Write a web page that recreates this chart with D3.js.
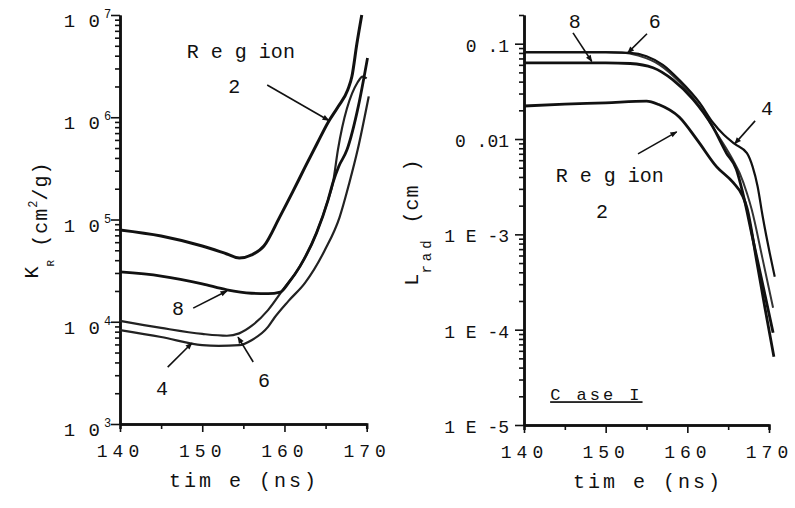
<!DOCTYPE html>
<html>
<head>
<meta charset="utf-8">
<script src="https://cdn.jsdelivr.net/npm/d3@7"></script>
<style>
  body { margin: 0; background: #fff; }
  svg { display: block; }
  text { font-family: "Liberation Mono", "Courier New", monospace; fill: #111; }
  .domain { stroke: #111; stroke-width: 2.5; }
  .tick line { stroke: #111; stroke-width: 1.6; }
</style>
</head>
<body>
<script>
// ---- data ----
var timeTicks = [140, 150, 160, 170];
var timeMinor = [145, 155, 165];

// left panel: Rosseland opacity K_R (cm^2/g)
var kMajor = [1e3, 1e4, 1e5, 1e6, 1e7];
var kExp = ["3", "4", "5", "6", "7"];

var kT2 = [140, 145, 150, 153, 154.5, 156, 157.5, 159.4, 161, 162.5, 164, 165.3, 166.5, 167.7, 168.2, 168.8, 169.4];
var kV2 = [79000, 69000, 55000, 46000, 42000, 45000, 55000, 105000, 186000, 325000, 560000, 890000, 1.26e6, 1.86e6, 2.5e6, 5.2e6, 1e7];

var kT8 = [140, 145, 150, 153, 156, 158, 159.5, 160.5, 161.9, 163.9, 165.3, 165.9, 166.6, 167.6, 169, 170.1];
var kV8 = [30700, 28000, 23500, 20500, 19000, 18800, 19500, 24000, 35000, 74000, 155000, 230000, 330000, 480000, 1.3e6, 3.8e6];

var kT6 = [140, 145, 150, 153, 154.5, 156, 158, 159.8, 161.9, 163.9, 165.3, 165.9, 166.5, 168.9, 169.5, 170.0];
var kV6 = [10200, 8700, 7600, 7300, 7700, 9100, 13000, 20500, 35000, 74000, 155000, 230000, 480000, 2.2e6, 2.5e6, 2.4e6];

var kT4 = [140, 145, 150, 152, 154.5, 156, 158, 158.8, 160.5, 162.5, 164.9, 166.7, 167.9, 168.9, 170.25];
var kV4 = [8300, 7100, 5900, 5800, 5900, 6600, 8900, 11000, 16000, 24000, 50000, 105000, 230000, 480000, 1.6e6];

// right panel: radiation length L_rad (cm)
var lMajor = [1e-5, 1e-4, 1e-3, 0.01, 0.1];
var lLabels = ["1 E -5", "1 E -4", "1 E -3", "0 .01", "0 .1"];

var lT2 = [140, 145, 150, 155, 156.5, 159, 161.2, 163.6, 165.6, 166.8, 167.3, 168.5, 169.5, 170.6];
var lV2 = [0.0222, 0.0232, 0.024, 0.025, 0.023, 0.017, 0.0098, 0.0051, 0.0035, 0.0025, 0.0019, 5.2e-4, 1.7e-4, 5.2e-5];

var lT8 = [140, 145, 150, 153, 155.8, 158.2, 160.7, 163.1, 164.8, 166, 166.8, 168, 169.3, 170.5];
var lV8 = [0.063, 0.063, 0.063, 0.062, 0.056, 0.042, 0.026, 0.0135, 0.0071, 0.0048, 0.0027, 9.1e-4, 2.8e-4, 9.3e-5];

var lT6 = [140, 145, 150, 152, 154, 156.6, 159.1, 161.5, 163.6, 165.6, 166.4, 167.3, 167.9, 169.2, 170.5];
var lV6 = [0.082, 0.082, 0.082, 0.081, 0.075, 0.06, 0.039, 0.022, 0.0115, 0.006, 0.0044, 0.0027, 0.0018, 5.6e-4, 1.7e-4];

var lT4 = [140, 145, 150, 153, 155, 157, 159.1, 161.5, 163.1, 164.5, 165.8, 167.3, 168, 168.6, 169.25, 170.1, 170.7];
var lV4 = [0.081, 0.081, 0.081, 0.08, 0.074, 0.06, 0.041, 0.024, 0.015, 0.011, 0.0089, 0.0071, 0.0051, 0.0032, 0.0015, 6.3e-4, 3.6e-4];

function zip(ts, vs) {
    return ts.map(function(t, i) { return [t, vs[i]]; });
}

function minorTicks(lo, hi) {
    var out = [];
    for (var e = lo; e < hi; e++) {
        for (var m = 2; m <= 9; m++) out.push(m * Math.pow(10, e));
    }
    return out;
}

function init() {
    var w = 795, h = 508;

    var svg = d3.select("body")
                .append("svg")
                .attr("width", w)
                .attr("height", h);

    svg.append("defs").append("marker")
        .attr("id", "head")
        .attr("viewBox", "0 0 10 10")
        .attr("refX", 9)
        .attr("refY", 5)
        .attr("markerWidth", 9)
        .attr("markerHeight", 7)
        .attr("markerUnits", "userSpaceOnUse")
        .attr("orient", "auto")
        .append("path")
        .attr("d", "M0,1 L10,5 L0,9 Z")
        .attr("fill", "#111");

    // ---------- left panel ----------
    var xL = d3.scaleLinear().domain([140, 170]).range([120, 366.7]);
    var yL = d3.scaleLog().domain([1e3, 1e7]).range([424, 15]);

    drawAxes(svg, xL, yL, 424, 120, minorTicks(3, 7), kMajor);

    // "10" with exponent labels
    svg.append("g").selectAll("text")
        .data(kMajor)
        .enter()
        .append("text")
        .attr("x", 101)
        .attr("y", function(d) { return yL(d) + 12; })
        .attr("text-anchor", "end")
        .style("font-size", "19px")
        .style("letter-spacing", "1px")
        .text("1 0");
    svg.append("g").selectAll("text")
        .data(kMajor)
        .enter()
        .append("text")
        .attr("x", 104)
        .attr("y", function(d) { return yL(d) + 3; })
        .style("font-size", "12px")
        .text(function(d, i) { return kExp[i]; });

    var lineL = d3.line()
        .x(function(d) { return xL(d[0]); })
        .y(function(d) { return yL(d[1]); })
        .curve(d3.curveMonotoneX);

    var leftSeries = [
        { pts: zip(kT4, kV4), width: 2.2, color: "#222" },
        { pts: zip(kT6, kV6), width: 2.2, color: "#222" },
        { pts: zip(kT8, kV8), width: 2.8, color: "#111" },
        { pts: zip(kT2, kV2), width: 3, color: "#111" }
    ];
    svg.append("g").selectAll("path")
        .data(leftSeries)
        .enter()
        .append("path")
        .attr("d", function(d) { return lineL(d.pts); })
        .attr("fill", "none")
        .attr("stroke", function(d) { return d.color; })
        .attr("stroke-width", function(d) { return d.width; })
        .attr("stroke-linejoin", "round");

    // labels and arrows, placed in data coordinates
    var leftNotes = [
        { text: "R e g ion", t: 154.7, v: 3.8e6 },
        { text: "2", t: 153.9, v: 1.74e6 },
        { text: "8", t: 147.05, v: 11650 },
        { text: "4", t: 145.1, v: 1900 },
        { text: "6", t: 157.5, v: 2300 }
    ];
    var leftArrows = [
        [157.9, 2.07e6, 165.4, 9.3e5],
        [148.9, 13600, 153.0, 20000],
        [145.8, 3600, 148.75, 6200],
        [156.2, 4040, 154.35, 7080]
    ];
    drawNotes(svg, xL, yL, leftNotes, leftArrows);

    svg.append("text")
        .attr("x", 244)
        .attr("y", 487)
        .attr("text-anchor", "middle")
        .style("font-size", "20px")
        .style("letter-spacing", "3px")
        .text("tim e (ns)");

    var kLab = svg.append("text")
        .attr("transform", "translate(47,220) rotate(-90)")
        .attr("text-anchor", "middle")
        .style("font-size", "20px");
    kLab.append("tspan").attr("dy", -9).text("K");
    kLab.append("tspan").attr("dy", 16).style("font-size", "11px").text("R");
    kLab.append("tspan").attr("dy", -7).style("letter-spacing", "1px").text(" (cm");
    kLab.append("tspan").attr("dy", -10).style("font-size", "12px").text("2");
    kLab.append("tspan").attr("dy", 10).style("letter-spacing", "1px").text("/g)");

    // ---------- right panel ----------
    var xR = d3.scaleLinear().domain([140, 170]).range([524, 769]);
    var yR = d3.scaleLog().domain([1e-5, 0.2]).range([425, 15]);

    drawAxes(svg, xR, yR, 425, 524, minorTicks(-5, -1).concat([0.2]), lMajor);

    svg.append("g").selectAll("text")
        .data(lMajor)
        .enter()
        .append("text")
        .attr("x", 509)
        .attr("y", function(d) { return yR(d) + 8; })
        .attr("text-anchor", "end")
        .style("font-size", "18px")
        .text(function(d, i) { return lLabels[i]; });

    var lineR = d3.line()
        .x(function(d) { return xR(d[0]); })
        .y(function(d) { return yR(d[1]); })
        .curve(d3.curveMonotoneX);

    var rightSeries = [
        { pts: zip(lT6, lV6), width: 2, color: "#333" },
        { pts: zip(lT4, lV4), width: 2.2, color: "#111" },
        { pts: zip(lT8, lV8), width: 2.8, color: "#111" },
        { pts: zip(lT2, lV2), width: 2.8, color: "#111" }
    ];
    svg.append("g").selectAll("path")
        .data(rightSeries)
        .enter()
        .append("path")
        .attr("d", function(d) { return lineR(d.pts); })
        .attr("fill", "none")
        .attr("stroke", function(d) { return d.color; })
        .attr("stroke-width", function(d) { return d.width; })
        .attr("stroke-linejoin", "round");

    var rightNotes = [
        { text: "8", t: 146.2, v: 0.147 },
        { text: "6", t: 156.0, v: 0.147 },
        { text: "4", t: 169.75, v: 0.0179 },
        { text: "R e g ion", t: 150.5, v: 0.00355 },
        { text: "2", t: 149.55, v: 0.00149 }
    ];
    var rightArrows = [
        [146.0, 0.13, 148.3, 0.065],
        [155.06, 0.127, 152.7, 0.08],
        [168.3, 0.0155, 165.8, 0.0089],
        [153.96, 0.00698, 158.7, 0.0119]
    ];
    drawNotes(svg, xR, yR, rightNotes, rightArrows);

    svg.append("text")
        .attr("x", xR(143.2))
        .attr("y", yR(1.82e-5))
        .style("font-size", "17px")
        .style("letter-spacing", "3px")
        .style("text-decoration", "underline")
        .text("C ase I");

    svg.append("text")
        .attr("x", 648)
        .attr("y", 488)
        .attr("text-anchor", "middle")
        .style("font-size", "20px")
        .style("letter-spacing", "3px")
        .text("tim e (ns)");

    var lLab = svg.append("text")
        .attr("transform", "translate(418,222) rotate(-90)")
        .attr("text-anchor", "middle")
        .style("font-size", "20px");
    lLab.append("tspan").text("L");
    lLab.append("tspan").attr("dy", 13).style("font-size", "14px").style("letter-spacing", "4px").text("rad");
    lLab.append("tspan").attr("dy", -13).style("letter-spacing", "1px").text(" (cm )");
}

function drawAxes(svg, x, y, y0, x0, minor, major) {
    svg.append("g")
        .attr("transform", "translate(0," + y0 + ")")
        .call(d3.axisBottom(x).tickValues(timeMinor).tickSize(5).tickFormat(""));
    var xa = svg.append("g")
        .attr("transform", "translate(0," + y0 + ")")
        .call(d3.axisBottom(x).tickValues(timeTicks).tickSize(8).tickSizeOuter(0)
              .tickFormat(function(d) { return d; }));
    xa.selectAll(".tick text")
        .attr("dy", 0)
        .attr("dx", 0)
        .attr("y", 33)
        .style("font-size", "18px")
        .style("letter-spacing", "5px")
        .style("font-family", "Liberation Mono, monospace")
        .style("fill", "#111");

    svg.append("g")
        .attr("transform", "translate(" + x0 + ",0)")
        .call(d3.axisLeft(y).tickValues(minor).tickSize(5).tickFormat("").tickSizeOuter(0));
    svg.append("g")
        .attr("transform", "translate(" + x0 + ",0)")
        .call(d3.axisLeft(y).tickValues(major).tickSize(9).tickFormat("").tickSizeOuter(0));
}

function drawNotes(svg, x, y, notes, arrows) {
    svg.append("g").selectAll("text")
        .data(notes)
        .enter()
        .append("text")
        .attr("x", function(d) { return x(d.t); })
        .attr("y", function(d) { return y(d.v); })
        .attr("text-anchor", "middle")
        .style("font-size", "20px")
        .text(function(d) { return d.text; });

    svg.append("g").selectAll("line")
        .data(arrows)
        .enter()
        .append("line")
        .attr("x1", function(d) { return x(d[0]); })
        .attr("y1", function(d) { return y(d[1]); })
        .attr("x2", function(d) { return x(d[2]); })
        .attr("y2", function(d) { return y(d[3]); })
        .attr("stroke", "#111")
        .attr("stroke-width", 1.6)
        .attr("marker-end", "url(#head)");
}

window.onload = init;
</script>
</body>
</html>
